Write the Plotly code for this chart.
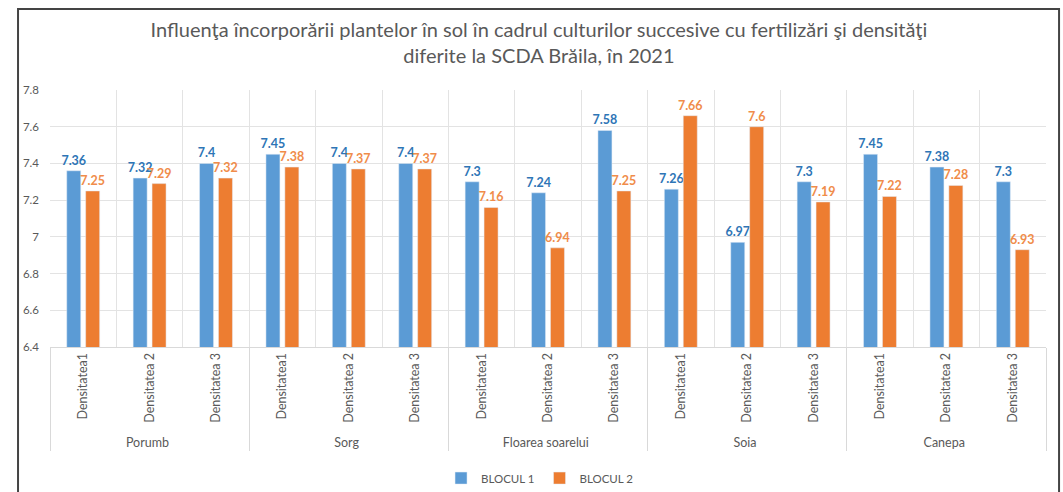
import plotly.graph_objects as go

# Crop groups and plant densities (two-level category axis)
crops = ["Porumb", "Sorg", "Floarea soarelui", "Soia", "Canepa"]
densities = ["Densitatea1", "Densitatea 2", "Densitatea 3"]

# Values per block, ordered crop by crop, density by density
blocul_1 = [7.36, 7.32, 7.4, 7.45, 7.4, 7.4, 7.3, 7.24, 7.58, 7.26, 6.97, 7.3, 7.45, 7.38, 7.3]
blocul_2 = [7.25, 7.29, 7.32, 7.38, 7.37, 7.37, 7.16, 6.94, 7.25, 7.66, 7.6, 7.19, 7.22, 7.28, 6.93]

y_ticks = [6.4, 6.6, 6.8, 7, 7.2, 7.4, 7.6, 7.8]

title_text = ("Influenţa încorporării plantelor în sol în cadrul culturilor succesive cu fertilizări şi densităţi"
              "<br>diferite la SCDA Brăila, în 2021")

outer = [c for c in crops for _ in densities]
inner = [d for _ in crops for d in densities]

FONT = "Lato"
GREY = "#595959"

fig = go.Figure()
fig.add_trace(go.Bar(
    name="BLOCUL 1", x=[outer, inner], y=blocul_1,
    marker_color="#5B9BD5",
    text=[f"{v:g}" for v in blocul_1], textposition="outside",
    textfont=dict(family=FONT, size=12.5, color="#2E75B6", weight="bold"),
    cliponaxis=False,
))
fig.add_trace(go.Bar(
    name="BLOCUL 2", x=[outer, inner], y=blocul_2,
    marker_color="#ED7D31",
    text=[f"{v:g}" for v in blocul_2], textposition="outside",
    textfont=dict(family=FONT, size=12.5, color="#F08C4A", weight="bold"),
    cliponaxis=False,
))

fig.update_layout(
    width=1063, height=492,
    margin=dict(l=50, r=17, t=90, b=145, autoexpand=False),
    paper_bgcolor="white", plot_bgcolor="white",
    font=dict(family=FONT, color=GREY),
    barmode="group", bargap=0.43, bargroupgap=0.26,
    uniformtext=dict(minsize=12.5, mode="show"),
    title=dict(text=title_text, x=0.507, xanchor="center", xref="container",
               y=0.925, yanchor="middle", yref="container",
               font=dict(family=FONT, size=20, color=GREY)),
    showlegend=True,
    legend=dict(orientation="h", x=0.492, xanchor="center", y=-0.51, yanchor="middle",
                font=dict(family=FONT, size=11.5, color=GREY), itemwidth=30,
                traceorder="normal"),
    xaxis=dict(
        type="multicategory",
        tickson="boundaries",
        showgrid=True, gridcolor="#E3E3E3", gridwidth=1,
        tickangle=-90,
        tickfont=dict(family=FONT, size=12.5, color=GREY),
        showdividers=True, dividercolor="#D9D9D9", dividerwidth=1,
        showline=True, linecolor="#D9D9D9", linewidth=1,
        ticks="", zeroline=False, automargin=False,
    ),
    yaxis=dict(
        range=[6.4, 7.8], tickvals=y_ticks, ticktext=[f"{v:g}" for v in y_ticks],
        showgrid=True, gridcolor="#E3E3E3", gridwidth=1,
        tickfont=dict(family=FONT, size=11.5, color=GREY),
        ticklabelstandoff=10, zeroline=False, showline=False, automargin=False,
    ),
)

# Outer frame of the chart
fig.add_shape(type="rect", xref="paper", yref="paper",
              x0=-0.0321, x1=1.0131, y0=-0.60, y1=1.315,
              line=dict(color="#444444", width=2), fillcolor="rgba(0,0,0,0)", layer="above")

fig.write_html("out.html")
